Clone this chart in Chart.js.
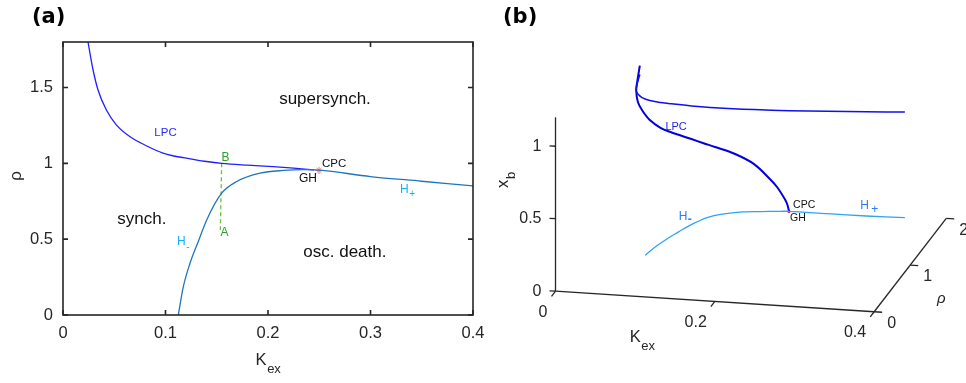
<!DOCTYPE html>
<html>
<head>
<meta charset="utf-8">
<script src="https://cdn.jsdelivr.net/npm/chart.js@4.4.1/dist/chart.umd.min.js"></script>
<style>
  body { margin: 0; background: #fff; }
  #wrap { position: relative; width: 966px; height: 383px; overflow: hidden; }
  canvas { position: absolute; top: 0; }
  #panelA { left: 0; }
  #panelB { left: 480px; }
</style>
</head>
<body>
<div id="wrap">
  <canvas id="panelA" width="490" height="383"></canvas>
  <canvas id="panelB" width="486" height="383"></canvas>
</div>
<script>
// ---- panel (a) data: (K_ex, rho) ----
const lpcK = [0.0244, 0.0293, 0.0341, 0.0422, 0.052, 0.0651, 0.0813, 0.0976, 0.107, 0.124, 0.14, 0.155, 0.18, 0.205, 0.225, 0.245];
const lpcRho = [1.80, 1.617, 1.485, 1.353, 1.254, 1.177, 1.116, 1.067, 1.05, 1.03, 1.012, 1.0, 0.988, 0.978, 0.968, 0.957];

const hK = [0.1125, 0.1174, 0.1239, 0.132, 0.1402, 0.1548, 0.1695, 0.1922, 0.215, 0.235, 0.25, 0.3, 0.35, 0.4];
const hRho = [0, 0.187, 0.341, 0.485, 0.627, 0.803, 0.88, 0.935, 0.953, 0.958, 0.955, 0.913, 0.882, 0.851];

const abK = [0.1548, 0.1535];
const abRho = [1.0, 0.56];

const cpcK = 0.2498;
const cpcRho = 0.953;

const xTicksA = [0, 0.1, 0.2, 0.3, 0.4];
const yTicksA = [0, 0.5, 1, 1.5];

// ---- panel (b) data: (K_ex, rho, x_b) ----
const lowK = [0.0244, 0.0293, 0.0341, 0.0422, 0.052, 0.0651, 0.0813, 0.0976, 0.107, 0.124, 0.14, 0.155, 0.18, 0.205, 0.225, 0.235, 0.245, 0.248, 0.25];
const lowRho = [1.80, 1.617, 1.485, 1.353, 1.254, 1.177, 1.116, 1.067, 1.05, 1.03, 1.012, 1.0, 0.988, 0.978, 0.968, 0.962, 0.957, 0.956, 0.955];
const lowXb = [0.985, 0.931, 0.921, 0.885, 0.863, 0.825, 0.797, 0.786, 0.779, 0.762, 0.745, 0.728, 0.694, 0.635, 0.544, 0.489, 0.409, 0.373, 0.332];

const upK = [0.0244, 0.0293, 0.0341, 0.0422, 0.052, 0.0651, 0.0813, 0.0976, 0.124, 0.155, 0.205, 0.25, 0.3, 0.35, 0.4];
const upRho = [1.80, 1.617, 1.485, 1.353, 1.254, 1.177, 1.116, 1.067, 1.03, 1.0, 0.978, 0.955, 0.913, 0.882, 0.851];
const upXb = [0.924, 0.918, 0.921, 0.94, 0.951, 0.96, 0.972, 0.984, 0.991, 0.999, 1.011, 1.027, 1.054, 1.078, 1.104];

const hbK = [0.1125, 0.1174, 0.1239, 0.132, 0.1402, 0.1548, 0.1695, 0.1922, 0.215, 0.235, 0.25, 0.3, 0.35, 0.4];
const hbRho = [0, 0.187, 0.341, 0.485, 0.627, 0.803, 0.88, 0.935, 0.953, 0.958, 0.955, 0.913, 0.882, 0.851];
const hbXb = [0.287, 0.289, 0.293, 0.298, 0.302, 0.305, 0.308, 0.314, 0.319, 0.326, 0.332, 0.347, 0.359, 0.375];

const kTicksB = [0, 0.2, 0.4];
const rhoTicksB = [0, 1, 2];
const xbTicksB = [0, 0.5, 1];

const SANS = "'Liberation Sans', Arial, Helvetica, sans-serif";
const DARK = "#262626";

function toPts(xs, ys) {
  return xs.map((x, i) => ({ x: x, y: ys[i] }));
}

function fmt(v) {
  return String(+v.toFixed(2));
}

function drawText(ctx, str, x, y, font, color, align, baseline) {
  ctx.save();
  ctx.font = font;
  ctx.fillStyle = color;
  ctx.textAlign = align || "left";
  ctx.textBaseline = baseline || "alphabetic";
  ctx.fillText(str, x, y);
  ctx.restore();
}

// -------- panel (a): box, inward ticks, labels --------
const frameA = {
  id: "frameA",
  afterDraw(chart) {
    const ctx = chart.ctx;
    const a = chart.chartArea;
    const sx = chart.scales.x;
    const sy = chart.scales.y;
    ctx.save();
    ctx.strokeStyle = DARK;
    ctx.lineWidth = 1.6;
    ctx.strokeRect(a.left, a.top, a.right - a.left, a.bottom - a.top);
    ctx.beginPath();
    xTicksA.forEach((v) => {
      const px = sx.getPixelForValue(v);
      ctx.moveTo(px, a.bottom);
      ctx.lineTo(px, a.bottom - 5);
      ctx.moveTo(px, a.top);
      ctx.lineTo(px, a.top + 5);
    });
    yTicksA.forEach((v) => {
      const py = sy.getPixelForValue(v);
      ctx.moveTo(a.left, py);
      ctx.lineTo(a.left + 5, py);
      ctx.moveTo(a.right, py);
      ctx.lineTo(a.right - 5, py);
    });
    ctx.stroke();
    ctx.restore();

    const X = (k) => sx.getPixelForValue(k);
    const Y = (r) => sy.getPixelForValue(r);

    // region names
    drawText(ctx, "supersynch.", X(0.2556), Y(1.419), "17px " + SANS, "#111", "center", "middle");
    drawText(ctx, "synch.", X(0.077), Y(0.634), "17px " + SANS, "#111", "center", "middle");
    drawText(ctx, "osc. death.", X(0.275), Y(0.416), "17px " + SANS, "#111", "center", "middle");

    // curve / point labels
    drawText(ctx, "LPC", X(0.1), Y(1.2), "11.5px " + SANS, "#2a2aff", "center", "middle");
    drawText(ctx, "B", X(0.1585), Y(1.036), "12px " + SANS, "#2ca02c", "center", "middle");
    drawText(ctx, "A", X(0.1576), Y(0.541), "12px " + SANS, "#2ca02c", "center", "middle");
    drawText(ctx, "CPC", X(0.2527), Y(0.997), "11.5px " + SANS, "#111", "left", "middle");
    drawText(ctx, "GH", X(0.239), Y(0.898), "12px " + SANS, "#111", "center", "middle");
    drawText(ctx, "H", X(0.1112), Y(0.482), "12px " + SANS, "#14b0f5", "left", "middle");
    drawText(ctx, "-", X(0.1202), Y(0.45), "10px " + SANS, "#14b0f5", "left", "middle");
    drawText(ctx, "H", X(0.3288), Y(0.825), "12px " + SANS, "#14b0f5", "left", "middle");
    drawText(ctx, "+", X(0.3378), Y(0.795), "10px " + SANS, "#14b0f5", "left", "middle");

    // axis titles
    drawText(ctx, "K", 261, 365, "16.5px " + SANS, DARK, "center", "alphabetic");
    drawText(ctx, "ex", 274, 373, "13px " + SANS, DARK, "center", "alphabetic");
    ctx.save();
    ctx.translate(21, 176);
    ctx.rotate(-Math.PI / 2);
    drawText(ctx, "ρ", 0, 0, "17px " + SANS, DARK, "center", "alphabetic");
    ctx.restore();

    drawText(ctx, "(a)", 32, 18, "bold 21px 'DejaVu Sans', sans-serif", "#000", "left", "middle");
  },
};

const chartA = new Chart(document.getElementById("panelA"), {
  type: "scatter",
  data: {
    datasets: [
      {
        data: toPts(hK, hRho),
        showLine: true,
        borderColor: "#1f76bf",
        borderWidth: 1.3,
        pointRadius: 0,
        cubicInterpolationMode: "monotone",
      },
      {
        data: toPts(lpcK, lpcRho),
        showLine: true,
        borderColor: "#2020ff",
        borderWidth: 1.3,
        pointRadius: 0,
        cubicInterpolationMode: "monotone",
      },
      {
        data: toPts(abK, abRho),
        showLine: true,
        borderColor: "#6cbf3a",
        borderWidth: 1.3,
        borderDash: [4, 3],
        pointRadius: 0,
      },
      {
        data: [{ x: cpcK, y: cpcRho }],
        pointStyle: "star",
        pointRadius: 3.5,
        borderColor: "#ff6b6b",
        borderWidth: 1,
        backgroundColor: "#ff6b6b",
      },
    ],
  },
  options: {
    responsive: false,
    animation: false,
    layout: { padding: { left: 0, right: 17, top: 42, bottom: 0 } },
    plugins: { legend: { display: false }, tooltip: { enabled: false } },
    scales: {
      x: {
        type: "linear",
        min: 0,
        max: 0.4,
        afterFit(s) {
          s.height = 68;
          s.paddingLeft = 0;
          s.paddingRight = 0;
        },
        afterBuildTicks(s) { s.ticks = xTicksA.map((v) => ({ value: v })); },
        grid: { display: false, drawTicks: false },
        border: { display: false },
        ticks: { padding: 9, color: DARK, font: { size: 16.5, family: SANS }, callback: (v) => fmt(v) },
      },
      y: {
        type: "linear",
        min: 0,
        max: 1.8,
        afterFit(s) {
          s.width = 63;
          s.paddingTop = 0;
          s.paddingBottom = 0;
        },
        afterBuildTicks(s) { s.ticks = yTicksA.map((v) => ({ value: v })); },
        grid: { display: false, drawTicks: false },
        border: { display: false },
        ticks: { padding: 10, color: DARK, font: { size: 16.5, family: SANS }, callback: (v) => fmt(v) },
      },
    },
  },
  plugins: [frameA],
});

// -------- panel (b): simple fixed-view 3D projection --------
// page-pixel position of (K, rho, xb) = origin + K*kv + rho*rv + xb*zv
const view = { ox: 552.7, oy: 293.3, kx: 810, ky: 52.5, rx: 36.65, ry: -47.65, zy: -148 };

function project(k, r, z) {
  return {
    x: view.ox + view.kx * k + view.rx * r,
    y: view.oy + view.ky * k + view.ry * r + view.zy * z,
  };
}

function projPts(ks, rs, zs) {
  return ks.map((k, i) => project(k, rs[i], zs[i]));
}

function seg(a, b) {
  return [project(a[0], a[1], a[2]), project(b[0], b[1], b[2])];
}

const axisStyle = { showLine: true, borderColor: DARK, borderWidth: 1.3, pointRadius: 0, tension: 0 };
const axesB = [
  seg([0, 0, 0], [0, 0, 1.2]),
  seg([0, 0, 0], [0.4, 0, 0]),
  seg([0.4, 0, 0], [0.4, 2, 0]),
];
xbTicksB.forEach((z) => axesB.push(seg([0, 0, z], [-0.0075, 0, z])));
kTicksB.forEach((k) => axesB.push(seg([k, 0, 0], [k, -0.11, 0])));
rhoTicksB.forEach((r) => axesB.push(seg([0.4, r, 0], [0.41, r, 0])));

const frameB = {
  id: "frameB",
  afterDraw(chart) {
    const ctx = chart.ctx;
    const sx = chart.scales.x;
    const sy = chart.scales.y;
    const P = (k, r, z) => {
      const p = project(k, r, z);
      return { x: sx.getPixelForValue(p.x), y: sy.getPixelForValue(p.y) };
    };
    const tf = "16px " + SANS;

    xbTicksB.forEach((z) => {
      const p = P(0, 0, z);
      drawText(ctx, fmt(z), p.x - 14, p.y, tf, DARK, "right", "middle");
    });
    kTicksB.forEach((k) => {
      const p = P(k, 0, 0);
      drawText(ctx, fmt(k), p.x - 8, p.y + 21, tf, DARK, "right", "middle");
    });
    rhoTicksB.forEach((r) => {
      const p = P(0.4, r, 0);
      drawText(ctx, fmt(r), p.x + 13, p.y + 12, tf, DARK, "left", "middle");
    });

    // axis titles
    const pk = P(0.1, 0, 0);
    drawText(ctx, "K", pk.x, pk.y + 46, "16.5px " + SANS, DARK, "center", "alphabetic");
    drawText(ctx, "ex", pk.x + 13, pk.y + 54, "13px " + SANS, DARK, "center", "alphabetic");
    ctx.save();
    ctx.translate(28, 188);
    ctx.rotate(-Math.PI / 2);
    drawText(ctx, "x", 0, 0, "16.5px " + SANS, DARK, "left", "alphabetic");
    drawText(ctx, "b", 9, 7, "13px " + SANS, DARK, "left", "alphabetic");
    ctx.restore();
    const pr = P(0.4, 0.7, 0);
    drawText(ctx, "ρ", pr.x + 42, pr.y + 20, "italic 15px " + SANS, DARK, "center", "middle");

    // labels
    const pl = P(0.124, 1.03, 0.762);
    drawText(ctx, "LPC", pl.x - 26, pl.y - 12, "11px " + SANS, "#1f1fe0", "left", "middle");
    const pc = P(0.25, 0.955, 0.332);
    drawText(ctx, "CPC", pc.x + 4, pc.y - 6, "10.5px " + SANS, "#111", "left", "middle");
    drawText(ctx, "GH", pc.x + 1, pc.y + 7, "10.5px " + SANS, "#111", "left", "middle");
    const hm = P(0.1548, 0.803, 0.305);
    drawText(ctx, "H", hm.x - 29, hm.y - 1, "12px " + SANS, "#2a7bff", "left", "middle");
    drawText(ctx, "-", hm.x - 20, hm.y + 2, "bold 12px " + SANS, "#2a7bff", "left", "middle");
    const hp = P(0.35, 0.882, 0.359);
    drawText(ctx, "H", hp.x - 6, hp.y - 10, "12px " + SANS, "#2a7bff", "left", "middle");
    drawText(ctx, "+", hp.x + 5, hp.y - 6, "12px " + SANS, "#2a7bff", "left", "middle");

    drawText(ctx, "(b)", 23, 18, "bold 21px 'DejaVu Sans', sans-serif", "#000", "left", "middle");
  },
};

const axisSets = axesB.map((pts) => Object.assign({ data: pts }, axisStyle));

const chartB = new Chart(document.getElementById("panelB"), {
  type: "scatter",
  data: {
    datasets: axisSets.concat([
      {
        data: projPts(hbK, hbRho, hbXb),
        showLine: true,
        borderColor: "#2ea3f7",
        borderWidth: 1.3,
        pointRadius: 0,
        tension: 0.35,
      },
      {
        data: projPts(upK, upRho, upXb),
        showLine: true,
        borderColor: "#1010ee",
        borderWidth: 1.5,
        pointRadius: 0,
        tension: 0.35,
      },
      {
        data: projPts(lowK, lowRho, lowXb),
        showLine: true,
        borderColor: "#0000dd",
        borderWidth: 2,
        pointRadius: 0,
        tension: 0.35,
      },
      {
        data: [project(cpcK, cpcRho, 0.332)],
        pointRadius: 1.6,
        borderWidth: 0,
        backgroundColor: "#e02020",
      },
    ]),
  },
  options: {
    responsive: false,
    animation: false,
    layout: { padding: 0 },
    plugins: { legend: { display: false }, tooltip: { enabled: false } },
    scales: {
      x: { type: "linear", min: 480, max: 966, display: false },
      y: { type: "linear", min: 0, max: 383, reverse: true, display: false },
    },
  },
  plugins: [frameB],
});
</script>
</body>
</html>
